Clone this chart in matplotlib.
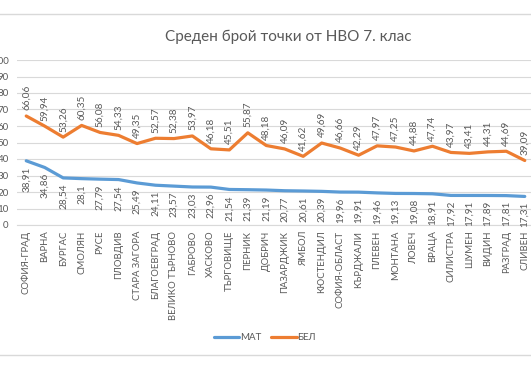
import matplotlib.pyplot as plt
from matplotlib.patches import Rectangle

# Regions (categories) and the two average-score series
regions = [
    "СОФИЯ-ГРАД", "ВАРНА", "БУРГАС", "СМОЛЯН", "РУСЕ", "ПЛОВДИВ",
    "СТАРА ЗАГОРА", "БЛАГОЕВГРАД", "ВЕЛИКО ТЪРНОВО", "ГАБРОВО", "ХАСКОВО",
    "ТЪРГОВИЩЕ", "ПЕРНИК", "ДОБРИЧ", "ПАЗАРДЖИК", "ЯМБОЛ", "КЮСТЕНДИЛ",
    "СОФИЯ-ОБЛАСТ", "КЪРДЖАЛИ", "ПЛЕВЕН", "МОНТАНА", "ЛОВЕЧ", "ВРАЦА",
    "СИЛИСТРА", "ШУМЕН", "ВИДИН", "РАЗГРАД", "СЛИВЕН",
]
mat = [38.91, 34.86, 28.54, 28.1, 27.79, 27.54, 25.49, 24.11, 23.57, 23.03,
       22.96, 21.54, 21.39, 21.19, 20.77, 20.61, 20.39, 19.96, 19.91, 19.46,
       19.13, 19.08, 18.91, 17.92, 17.91, 17.89, 17.81, 17.31]
bel = [66.06, 59.94, 53.26, 60.35, 56.08, 54.33, 49.35, 52.57, 52.38, 53.97,
       46.18, 45.51, 55.87, 48.18, 46.09, 41.62, 49.69, 46.66, 42.29, 47.97,
       47.25, 44.88, 47.74, 43.97, 43.41, 44.31, 44.69, 39.09]
y_ticks = list(range(0, 101, 10))

plt.rcParams["font.family"] = ["Lato", "DejaVu Sans"]
text_gray = "#595959"
blue = "#5B9BD5"
orange = "#ED7D31"

fig = plt.figure(figsize=(5.31, 3.71), dpi=100)
W, H = 531, 371
# plot area in pixel terms, converted to figure fractions
left, right, top, bottom = 17, 534, 60, 225
axis = fig.add_axes([left / W, 1 - bottom / H, (right - left) / W, (bottom - top) / H])

# Chart-area border (left/right edges fall outside the cropped picture)
fig.patches.append(Rectangle((-0.05, 1 - 355 / H), 1.1, (355 - 14) / H,
                             transform=fig.transFigure, fill=False,
                             edgecolor="#D9D9D9", linewidth=1.0))

x = list(range(len(regions)))
axis.plot(x, mat, color=blue, linewidth=2.3, label="МАТ", solid_capstyle="round")
axis.plot(x, bel, color=orange, linewidth=2.3, label="БЕЛ", solid_capstyle="round")

def fmt(v):
    return f"{v:g}".replace(".", ",")

for xi, v in zip(x, mat):
    axis.annotate(fmt(v), (xi, v), xytext=(0, -4), textcoords="offset points",
                  rotation=90, ha="center", va="top", fontsize=7.2, color=text_gray)
for xi, v in zip(x, bel):
    axis.annotate(fmt(v), (xi, v), xytext=(0, 4), textcoords="offset points",
                  rotation=90, ha="center", va="bottom", fontsize=7.2, color=text_gray)

axis.set_xlim(-0.5, len(regions) - 0.5)
axis.set_ylim(0, 100)
axis.set_yticks(y_ticks)
axis.set_xticks(x)
axis.set_xticklabels(regions, rotation=90, fontsize=6.8, color=text_gray)
axis.tick_params(axis="y", length=0, pad=6, labelsize=7, labelcolor=text_gray)
axis.tick_params(axis="x", length=0, pad=4)
axis.grid(axis="y", color="#D9D9D9", linewidth=0.8)
axis.set_axisbelow(True)
for side in ["left", "right", "top"]:
    axis.spines[side].set_visible(False)
axis.spines["bottom"].set_color("#D9D9D9")

fig.text(288 / W, 1 - 37 / H, "Среден брой точки от НВО 7. клас", ha="center",
         va="center", fontsize=11, color=text_gray)

fig.legend(loc="center", bbox_to_anchor=(265 / W, 1 - 338 / H), ncol=2,
           frameon=False, fontsize=7, labelcolor=text_gray, handlelength=2.6,
           handletextpad=0.1, columnspacing=1.0)

fig.savefig("out.png", dpi=100)
